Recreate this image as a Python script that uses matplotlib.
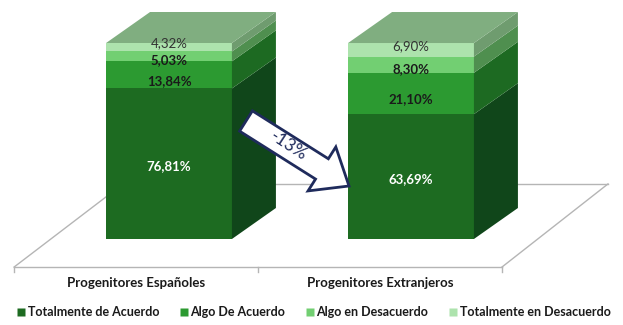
import matplotlib
matplotlib.use('Agg')
import matplotlib.pyplot as plt
from matplotlib.patches import Polygon, FancyArrow
from matplotlib.lines import Line2D

# data
categories = ['Progenitores Españoles', 'Progenitores Extranjeros']
series = ['Totalmente de Acuerdo', 'Algo De Acuerdo', 'Algo en Desacuerdo', 'Totalmente en Desacuerdo']
values = {
    'Totalmente de Acuerdo': [76.81, 63.69],
    'Algo De Acuerdo': [13.84, 21.10],
    'Algo en Desacuerdo': [5.03, 8.30],
    'Totalmente en Desacuerdo': [4.32, 6.90],
}
change_label = '-13%'

front_colors = ['#1d6b21', '#2c9a31', '#72cf72', '#ade3ad']
side_colors = ['#10461a', '#1d6a22', '#4f8f4f', '#6f9c6f']
top_color = '#80ae80'
label_colors = ['white', '#1a1a1a', '#1a1a1a', '#333333']
label_weights = ['bold', 'bold', 'bold', 'normal']
# vertical nudge of each series' data label, pixels (negative = down)
label_nudge = [-2, -6, -4, 4]

plt.rcParams['font.family'] = ['Lato', 'DejaVu Sans']

fig = plt.figure(figsize=(6.23, 3.25), dpi=100)
ax = fig.add_axes([0, 0, 1, 1])
# x in category units (242 px per category), y in percent (1.96 px per %)
ax.set_xlim(-169 / 242, (623 - 169) / 242)
ax.set_ylim((239 - 325) / 1.96, 239 / 1.96)
ax.axis('off')

bar_w = 0.52
depth_x, depth_y = 44 / 242, 31 / 1.96

# floor
floor_front, floor_back = -14.3, 28.1
fl, fr = -0.640, 1.376
bl, br = -0.190, 1.814
floor_kw = dict(color='#b5b5b5', lw=1.0, zorder=1)
ax.plot([fl, fr], [floor_front, floor_front], **floor_kw)
ax.plot([fl, bl], [floor_front, floor_back], **floor_kw)
ax.plot([fr, br], [floor_front, floor_back], **floor_kw)
ax.plot([bl, br], [floor_back, floor_back], **floor_kw)
for tx in [fl, (fl + fr) / 2, fr]:
    ax.plot([tx, tx], [floor_front, floor_front - 2.6], **floor_kw)

for i, cat in enumerate(categories):
    x0, x1 = i - bar_w / 2, i + bar_w / 2
    bottom = 0.0
    for k, name in enumerate(series):
        v = values[name][i]
        top = bottom + v
        ax.add_patch(Polygon([(x0, bottom), (x1, bottom), (x1, top), (x0, top)],
                             closed=True, facecolor=front_colors[k], edgecolor='none', zorder=3))
        ax.add_patch(Polygon([(x1, bottom), (x1 + depth_x, bottom + depth_y),
                              (x1 + depth_x, top + depth_y), (x1, top)],
                             closed=True, facecolor=side_colors[k], edgecolor='none', zorder=3))
        txt = f'{v:.2f}'.replace('.', ',') + '%'
        ax.annotate(txt, xy=(i, bottom + v / 2), xytext=(0, label_nudge[k]),
                    textcoords='offset pixels', ha='center', va='center', fontsize=9.5,
                    color=label_colors[k], fontweight=label_weights[k], zorder=5)
        bottom = top
    ax.add_patch(Polygon([(x0, bottom), (x1, bottom), (x1 + depth_x, bottom + depth_y),
                          (x0 + depth_x, bottom + depth_y)],
                         closed=True, facecolor=top_color, edgecolor='none', zorder=3))
    # category label centred under its floor segment
    cx = fl + (fr - fl) * (i + 0.5) / len(categories)
    ax.text(cx, -22.2, cat, ha='center', va='center', fontsize=9.5,
            fontweight='bold', color='#1a1a1a')

# change arrow, drawn in pixel coordinates
pax = fig.add_axes([0, 0, 1, 1])
pax.set_xlim(0, 623)
pax.set_ylim(325, 0)
pax.axis('off')
tail, tip = (246, 121), (349, 186)
pax.add_patch(FancyArrow(tail[0], tail[1], tip[0] - tail[0], tip[1] - tail[1],
                         width=24, head_width=52, head_length=32,
                         length_includes_head=True, facecolor='white',
                         edgecolor='#1f2b5c', lw=2, zorder=6))
pax.text(289, 146, change_label, rotation=-33, ha='center', va='center',
         fontsize=12.5, color='#1f2b5c', zorder=7, rotation_mode='anchor')

handles = [Line2D([], [], marker='s', linestyle='none', markersize=5.5,
                  markerfacecolor=c, markeredgecolor='none') for c in front_colors]
fig.legend(handles, series, loc='center', bbox_to_anchor=(0.503, 0.04), ncol=4,
           frameon=False, handletextpad=0.1, columnspacing=1.6, handlelength=0.8,
           prop={'size': 9, 'weight': 'bold'}, labelcolor='#1a1a1a')

fig.savefig('out.png', dpi=100)
